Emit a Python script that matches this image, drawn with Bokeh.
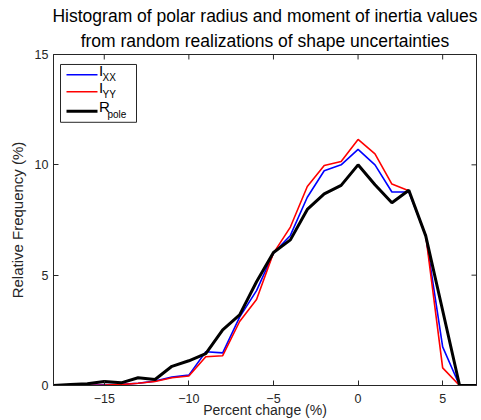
from bokeh.plotting import figure
from bokeh.models import Range1d, Label, FixedTicker, Title
from bokeh.embed import file_html
from bokeh.resources import INLINE

x_vals = list(range(-18, 8))
ixx = [0.0, 0.0, 0.01, 0.03, 0.05, 0.1, 0.2, 0.38, 0.47, 1.53, 1.48, 3.1, 4.3, 6.0,
       6.8, 8.53, 9.73, 10.0, 10.7, 10.0, 8.77, 8.77, 6.8, 1.75, 0.0, 0.0]
iyy = [0.0, 0.0, 0.01, 0.02, 0.04, 0.1, 0.18, 0.35, 0.43, 1.3, 1.35, 2.9, 3.9, 6.0,
       7.18, 9.02, 9.97, 10.15, 11.15, 10.5, 9.13, 8.83, 6.8, 0.8, 0.0, 0.0]
rpole = [0.0, 0.05, 0.08, 0.18, 0.12, 0.35, 0.27, 0.87, 1.12, 1.44, 2.52, 3.2, 4.7, 6.03,
         6.6, 7.98, 8.68, 9.07, 10.0, 9.1, 8.28, 8.85, 6.78, 3.4, 0.0, 0.0]
x_ticks = [-15, -10, -5, 0, 5]
y_ticks = [0, 5, 10, 15]
title_lines = ["Histogram of polar radius and moment of inertia values",
               "from random realizations of shape uncertainties"]

X0, X1, Y0, Y1 = -18, 7, 0, 15
FW, FH = 423, 332
FONT = "Liberation Sans"
TXT = "#262626"

p = figure(width=481, height=420, output_backend="svg", toolbar_location=None,
           title=None,
           x_range=Range1d(X0, X1), y_range=Range1d(Y0, Y1),
           min_border_left=53, min_border_right=5, min_border_top=54, min_border_bottom=34)

for i, line in enumerate(reversed(title_lines)):
    t = Title(text=line, align="center", text_font=FONT, text_font_size="17.5px",
              text_font_style="normal", text_color="black", offset=0,
              standoff=7 if i == 0 else 0, text_line_height=0.9)
    p.add_layout(t, "above")

p.xgrid.visible = False
p.ygrid.visible = False
p.outline_line_color = TXT
p.outline_line_width = 1
p.background_fill_color = "white"
p.border_fill_color = "white"

for ax in (p.xaxis[0], p.yaxis[0]):
    ax.major_tick_in = 5
    ax.major_tick_out = 0
    ax.minor_tick_line_color = None
    ax.axis_line_color = TXT
    ax.major_tick_line_color = TXT
    ax.major_label_text_color = TXT
    ax.major_label_text_font = FONT
    ax.major_label_text_font_size = "12.5px"
    ax.axis_label_text_font = FONT
    ax.axis_label_text_font_style = "normal"
    ax.axis_label_text_color = TXT

p.xaxis[0].ticker = FixedTicker(ticks=x_ticks)
p.yaxis[0].ticker = FixedTicker(ticks=y_ticks)
p.xaxis[0].axis_label = "Percent change (%)"
p.xaxis[0].axis_label_text_font_size = "14px"
p.xaxis[0].major_label_standoff = 8
p.xaxis[0].axis_label_standoff = -4
p.yaxis[0].axis_label = "Relative Frequency (%)"
p.yaxis[0].axis_label_text_font_size = "15px"
p.yaxis[0].major_label_standoff = 5
p.yaxis[0].axis_label_standoff = 6

# frame pixel (from top-left of frame) -> data coordinates, for box ticks and legend
def fx(px):
    return X0 + px / FW * (X1 - X0)

def fy(py):
    return Y1 - py / FH * (Y1 - Y0)

# inward ticks on top and right edges of the box
p.segment(x0=x_ticks, y0=[Y1] * len(x_ticks), x1=x_ticks, y1=[fy(5)] * len(x_ticks),
          line_color=TXT, line_width=1)
p.segment(x0=[X1] * len(y_ticks), y0=y_ticks, x1=[fx(FW - 5)] * len(y_ticks), y1=y_ticks,
          line_color=TXT, line_width=1)

p.line(x_vals, ixx, line_color="#0000FF", line_width=1.6)
p.line(x_vals, iyy, line_color="#FF0000", line_width=1.6)
p.line(x_vals, rpole, line_color="black", line_width=3)

p.quad(left=[fx(7)], right=[fx(83)], top=[fy(10)], bottom=[fy(68)],
       fill_color="white", line_color=TXT, line_width=1)
entries = [("#0000FF", 1.6, 20.3, "I", "XX"),
           ("#FF0000", 1.6, 37.3, "I", "YY"),
           ("black", 3, 57, "R", "pole")]
for col, lw, ly, main, sub in entries:
    p.line([fx(13), fx(44)], [fy(ly), fy(ly)], line_color=col, line_width=lw)
    p.add_layout(Label(x=fx(45.5), y=fy(ly - 4.5), text=main, text_font=FONT,
                       text_font_size="15px", text_color="black",
                       text_baseline="middle", text_align="left"))
    sub_x = 49 if main == "I" else 54
    p.add_layout(Label(x=fx(sub_x), y=fy(ly + 3), text=sub, text_font=FONT,
                       text_font_size="10px", text_color="black",
                       text_baseline="middle", text_align="left"))

open("out.html", "w").write(file_html(p, INLINE))
